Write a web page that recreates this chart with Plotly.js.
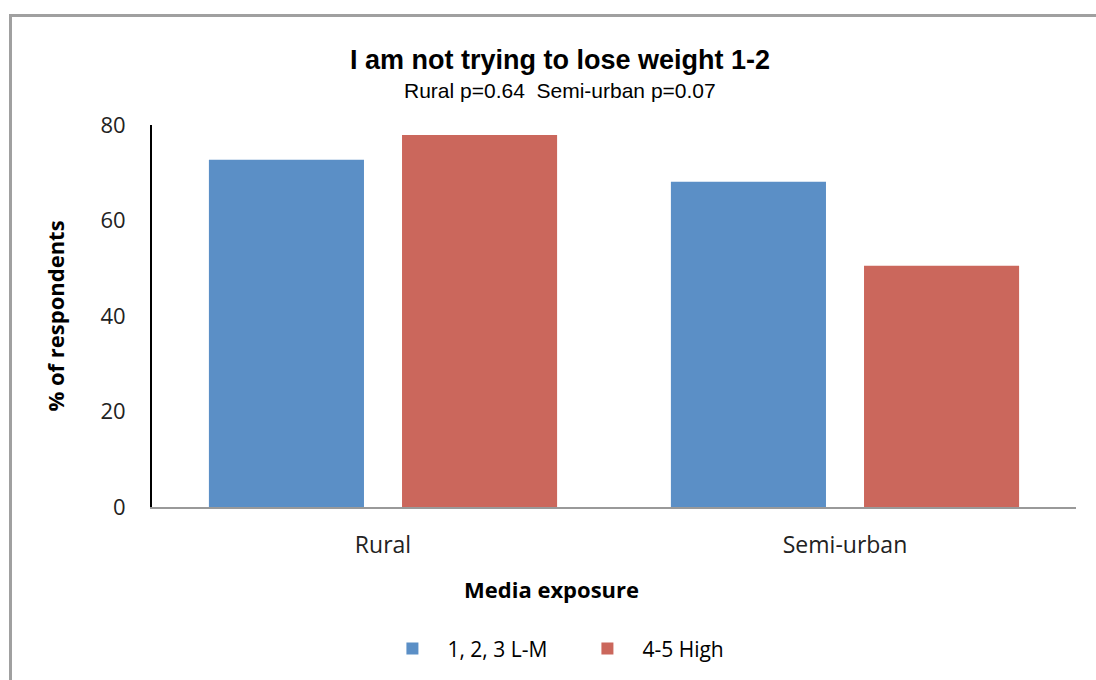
<!DOCTYPE html>
<html>
<head>
<meta charset="utf-8">
<script src="https://cdn.plot.ly/plotly-3.0.1.min.js"></script>
<style>
html,body{margin:0;padding:0;background:#fff;overflow:hidden;}
#frame{position:absolute;left:9px;top:14px;width:1100px;height:700px;border:3px solid #a0a0a0;box-sizing:border-box;}
#chart{position:absolute;left:0;top:0;width:1096px;height:680px;}
</style>
</head>
<body>
<div id="frame"></div>
<div id="chart"></div>
<script>
const categories = ["Rural", "Semi-urban"];
const seriesNames = ["1, 2, 3 L-M", "4-5 High"];
const lowMediumVals = [72.7, 68.1];
const highVals = [77.9, 50.5];
const yTicks = [0, 20, 40, 60, 80];
const titleText = "I am not trying to lose weight 1-2";
const subtitleText = "Rural p=0.64  Semi-urban p=0.07";
const xTitle = "Media exposure";
const yTitle = "% of respondents";

const sansFamily = "Open Sans, Noto Sans, sans-serif";
const arialFamily = "Liberation Sans, Arial, sans-serif";
const data = [
  {type: "bar", name: seriesNames[0], x: categories, y: lowMediumVals,
   marker: {color: "#5B8FC6"}},
  {type: "bar", name: seriesNames[1], x: categories, y: highVals,
   marker: {color: "#CB675C"}}
];
const layout = {
  width: 1096, height: 680,
  paper_bgcolor: "rgba(0,0,0,0)", plot_bgcolor: "rgba(0,0,0,0)",
  margin: {l: 152, r: 20, t: 125, b: 172},
  barmode: "group", bargap: 0.164, bargroupgap: 0.197,
  title: {
    text: "<b>" + titleText + "</b>",
    font: {family: arialFamily, size: 27, color: "#000"},
    x: 0.511, xanchor: "center", y: 1 - 60 / 680, yanchor: "middle"
  },
  xaxis: {
    type: "category", showline: true, linecolor: "#999", linewidth: 2,
    ticks: "", tickfont: {family: sansFamily, size: 23, color: "#222"},
    ticklabelstandoff: 16,
    showgrid: false, zeroline: false, automargin: false
  },
  yaxis: {
    range: [0, 80], tickvals: yTicks, showline: true, linecolor: "#000", linewidth: 2,
    ticks: "", tickfont: {family: sansFamily, size: 22, color: "#222"}, showgrid: false, zeroline: false,
    ticklabelstandoff: 20,
    title: {text: "<b>" + yTitle + "</b>", font: {family: sansFamily, size: 22, color: "#000"}, standoff: 30},
    automargin: false
  },
  annotations: [
    {text: subtitleText, xref: "paper", yref: "paper", x: (560 - 152) / 924, y: (508 - 90) / 383,
     xanchor: "center", yanchor: "middle", showarrow: false,
     font: {family: arialFamily, size: 21, color: "#000"}},
    {text: "<b>" + xTitle + "</b>", xref: "paper", yref: "paper", x: (551 - 152) / 924, y: (508 - 590) / 383,
     xanchor: "center", yanchor: "middle", showarrow: false,
     font: {family: sansFamily, size: 22, color: "#000"}}
  ],
  legend: {
    orientation: "h", x: 0.455, xanchor: "center", y: -0.368, yanchor: "middle",
    font: {family: sansFamily, size: 21, color: "#000"},
    itemwidth: 60, entrywidth: 120, traceorder: "normal"
  },
  showlegend: true
};
Plotly.newPlot("chart", data, layout, {displayModeBar: false, staticPlot: true});
</script>
</body>
</html>
